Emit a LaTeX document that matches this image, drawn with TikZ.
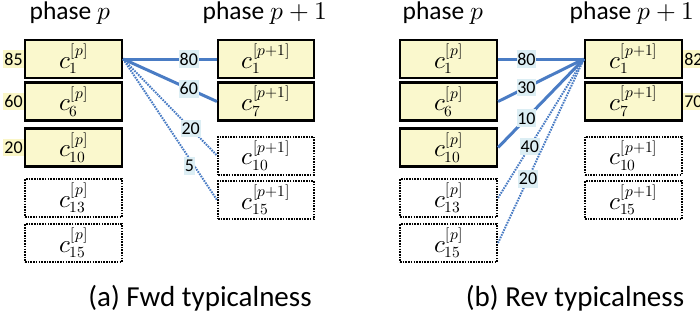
\documentclass[tikz,border=0pt]{standalone}
\usepackage{fontspec}
\usepackage{unicode-math}
\setmainfont{Carlito}
\setmathfont{Latin Modern Math}
\DeclareMathSizes{22}{25}{15.5}{11}
\definecolor{boxyellow}{HTML}{FAF8CD}
\definecolor{sideyellow}{HTML}{FAF6C6}
\definecolor{lblue}{HTML}{DCEEF4}
\definecolor{eblue}{HTML}{4A7CC4}
\tikzset{
  cell/.style={draw, line width=2.2pt, fill=boxyellow, minimum width=97pt, minimum height=38pt, inner sep=0pt, font=\fontsize{22}{22}\selectfont},
  ghost/.style={draw, line width=2pt, dash pattern=on 1.6pt off 1.1pt, fill=white, minimum width=97pt, minimum height=38pt, inner sep=0pt, font=\fontsize{22}{22}\selectfont},
  title/.style={font=\fontsize{25.5}{25.5}\selectfont},
  caption/.style={font=\fontsize{29}{29}\selectfont},
  side/.style={fill=sideyellow, inner xsep=1pt, inner ysep=2.5pt, font=\fontsize{18}{18}\selectfont},
  elabel/.style={fill=lblue, inner xsep=0.8pt, inner ysep=3pt, font=\fontsize{18}{18}\selectfont},
  strong/.style={draw=eblue, line width=3pt},
  weak/.style={draw=eblue, line width=2pt, dash pattern=on 1.6pt off 1.1pt},
}
\begin{document}
\begin{tikzpicture}[x=1pt,y=-1pt]
\useasboundingbox (0,0) rectangle (700,321);
% ---------- panel (a) ----------
\node[title] (ta1) at (70,13) {phase $p$};
\node[title] (ta2) at (265,13) {phase $p+1$};
\node[cell] (a1) at (73.5,59) {$c_{1}^{[p]}$};
\node[cell] (a6) at (73.5,101.5) {$c_{6}^{[p]}$};
\node[cell] (a10) at (73.5,147.5) {$c_{10}^{[p]}$};
\node[ghost] (a13) at (73.5,198) {$c_{13}^{[p]}$};
\node[ghost] (a15) at (73.5,243) {$c_{15}^{[p]}$};
\node[side, anchor=east] (s85) at (a1.west) {85};
\node[side, anchor=east] (s60) at (a6.west) {60};
\node[side, anchor=east] (s20) at (a10.west) {20};
\node[cell, minimum width=96pt] (b1) at (266,59) {$c_{1}^{[p+1]}$};
\node[cell, minimum width=96pt] (b7) at (266,101.5) {$c_{7}^{[p+1]}$};
\node[ghost, minimum width=96pt] (b10) at (266,155.5) {$c_{10}^{[p+1]}$};
\node[ghost, minimum width=96pt] (b15) at (266,200) {$c_{15}^{[p+1]}$};
\draw[strong] (a1.east) -- node[elabel, pos=.70] (l80a) {80} (b1.west);
\draw[strong] (a1.east) -- node[elabel, pos=.70] (l60a) {60} (b7.west);
\draw[weak] (a1.east) -- node[elabel, pos=.72] (l20a) {20} (b10.west);
\draw[weak] (a1.east) -- node[elabel, pos=.76, xshift=-5pt] (l5a) {5} (b15.west);
\node[caption] (capa) at (200,298) {(a) Fwd typicalness};
% ---------- panel (b) ----------
\node[title] (tb1) at (443,13) {phase $p$};
\node[title] (tb2) at (632,13) {phase $p+1$};
\node[cell] (c1) at (448.5,59) {$c_{1}^{[p]}$};
\node[cell] (c6) at (448.5,101.5) {$c_{6}^{[p]}$};
\node[cell] (c10) at (448.5,147.5) {$c_{10}^{[p]}$};
\node[ghost] (c13) at (448.5,198) {$c_{13}^{[p]}$};
\node[ghost] (c15) at (448.5,243) {$c_{15}^{[p]}$};
\node[cell] (d1) at (633.5,59) {$c_{1}^{[p+1]}$};
\node[cell] (d7) at (633.5,101.5) {$c_{7}^{[p+1]}$};
\node[ghost] (d10) at (633.5,155.5) {$c_{10}^{[p+1]}$};
\node[ghost] (d15) at (633.5,200) {$c_{15}^{[p+1]}$};
\node[side, anchor=west] (s82) at (d1.east) {82};
\node[side, anchor=west] (s70) at (d7.east) {70};
\draw[strong] (c1.east) -- node[elabel, pos=.33] (l80b) {80} (d1.west);
\draw[strong] (c6.east) -- node[elabel, pos=.33] (l30b) {30} (d1.west);
\draw[strong] (c10.east) -- node[elabel, pos=.33] (l10b) {10} (d1.west);
\draw[weak] (c13.east) -- node[elabel, pos=.37] (l40b) {40} (d1.west);
\draw[weak] (c15.east) -- node[elabel, pos=.35] (l20b) {20} (d1.west);
\node[caption] (capb) at (575,298) {(b) Rev typicalness};
\end{tikzpicture}
\end{document}
